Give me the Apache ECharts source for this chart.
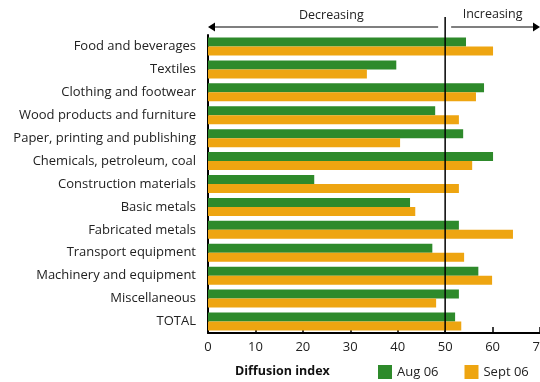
<!DOCTYPE html>
<html><head><meta charset="utf-8">
<script src="https://cdn.jsdelivr.net/npm/echarts@6/dist/echarts.min.js"></script>
<style>html,body{margin:0;padding:0;background:#fff}#c{width:540px;height:382px}</style>
</head><body><div id="c"></div>
<script>
const categories = ["Food and beverages","Textiles","Clothing and footwear","Wood products and furniture","Paper, printing and publishing","Chemicals, petroleum, coal","Construction materials","Basic metals","Fabricated metals","Transport equipment","Machinery and equipment","Miscellaneous","TOTAL"];
const aug06 = [54.4,39.7,58.2,47.9,53.8,60.1,22.4,42.6,52.9,47.3,57.0,52.9,52.1];
const sept06 = [60.1,33.5,56.5,52.9,40.5,55.7,52.9,43.7,64.3,54.0,59.9,48.1,53.4];
const xTicks = [0,10,20,30,40,50,60,70];
const threshold = 50;

const FONT = '"Open Sans", "Noto Sans", sans-serif';
const GREEN = '#2e8a2b', ORANGE = '#eea511';
const chart = echarts.init(document.getElementById('c'), null, {renderer:'canvas'});
chart.setOption({
  animation:false,
  textStyle:{fontFamily:FONT},
  grid:{left:208,right:0,top:35,bottom:49,containLabel:false,outerBoundsMode:'none'},
  xAxis:{type:'value',min:xTicks[0],max:xTicks[xTicks.length-1],interval:10,
    axisLine:{show:true,lineStyle:{color:'#000',width:2}},
    axisTick:{show:true,inside:true,length:6,lineStyle:{color:'#000',width:1.5}},
    axisLabel:{color:'#222',fontSize:13,margin:8,fontFamily:FONT,showMaxLabel:true},
    splitLine:{show:false}},
  yAxis:{type:'category',data:categories,inverse:true,
    axisLine:{show:true,lineStyle:{color:'#000',width:2}},
    axisTick:{show:false},
    axisLabel:{color:'#222',fontSize:13,margin:12,fontFamily:FONT}},
  legend:{left:378,top:365,padding:0,itemWidth:14,itemHeight:14,itemGap:26,icon:'rect',
    textStyle:{fontSize:13,color:'#222',fontFamily:FONT},
    data:['Aug 06','Sept 06']},
  title:{text:'Diffusion index',left:235,top:365,padding:0,textStyle:{fontSize:12.5,fontWeight:'bold',color:'#111',fontFamily:FONT}},
  series:[
    {name:'Aug 06',type:'bar',data:aug06,barWidth:9,barGap:'0%',itemStyle:{color:GREEN}},
    {name:'Sept 06',type:'bar',data:sept06,barWidth:9,barGap:'0%',itemStyle:{color:ORANGE}}
  ]
});
const px = chart.convertToPixel({xAxisIndex:0}, threshold);
const x0 = chart.convertToPixel({xAxisIndex:0}, xTicks[0]);
const x1 = chart.convertToPixel({xAxisIndex:0}, xTicks[xTicks.length-1]);
const yBottom = 333, yTop = 17, ay = 27;
chart.setOption({graphic:[
  {type:'line',z:100,shape:{x1:px,y1:yTop,x2:px,y2:yBottom},style:{stroke:'#000',lineWidth:1.5}},
  {type:'line',z:100,shape:{x1:x0+2,y1:ay,x2:px-7,y2:ay},style:{stroke:'#000',lineWidth:1.2}},
  {type:'polygon',z:100,shape:{points:[[x0,ay],[x0+7,ay-4.5],[x0+7,ay+4.5]]},style:{fill:'#000'}},
  {type:'line',z:100,shape:{x1:px+6,y1:ay,x2:x1-2,y2:ay},style:{stroke:'#000',lineWidth:1.2}},
  {type:'polygon',z:100,shape:{points:[[x1,ay],[x1-7,ay-4.5],[x1-7,ay+4.5]]},style:{fill:'#000'}},
  {type:'text',z:100,x:x0+(px-x0)*0.52,y:15,style:{text:'Decreasing',fill:'#222',font:'12.5px '+FONT,textAlign:'center',textVerticalAlign:'middle'}},
  {type:'text',z:100,x:(px+x1)/2,y:14,style:{text:'Increasing',fill:'#222',font:'12.5px '+FONT,textAlign:'center',textVerticalAlign:'middle'}}
]});
</script></body></html>
